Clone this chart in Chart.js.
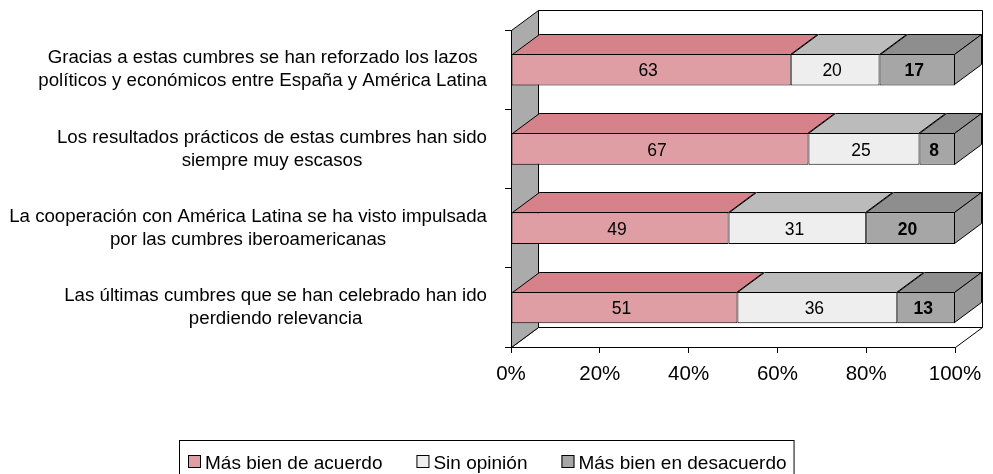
<!DOCTYPE html>
<html>
<head>
<title>Cumbres iberoamericanas</title>
<script src="https://cdn.jsdelivr.net/npm/chart.js"></script>
<style>
  body{ margin:0; background:#fff; }
</style>
</head>
<body>
<canvas id="chart" width="993" height="474"></canvas>
<script>
const categories = [
  ['Gracias a estas cumbres se han reforzado los lazos', 'políticos y económicos entre España y América Latina'],
  ['Los resultados prácticos de estas cumbres han sido', 'siempre muy escasos'],
  ['La cooperación con América Latina se ha visto impulsada', 'por las cumbres iberoamericanas'],
  ['Las últimas cumbres que se han celebrado han ido', 'perdiendo relevancia']
];
const seriesNames = ['Más bien de acuerdo', 'Sin opinión', 'Más bien en desacuerdo'];
const deAcuerdo = [63, 67, 49, 51];
const sinOpinion = [20, 25, 31, 36];
const enDesacuerdo = [17, 8, 20, 13];
const xTicks = [0, 20, 40, 60, 80, 100];

const FONT = '"Liberation Sans", Arial, sans-serif';
const DX = 27, DY = -20;   // depth of the 3d effect
const frontColors = ['#DE9EA4', '#EEEEEE', '#A6A6A6'];
const topColors = ['#D6828B', '#BBBBBB', '#8E8E8E'];
const sideColors = ['#C8727B', '#AAAAAA', '#9A9A9A'];

function poly(ctx, pts, fill) {
  ctx.beginPath();
  ctx.moveTo(pts[0][0], pts[0][1]);
  for (let i = 1; i < pts.length; i++) ctx.lineTo(pts[i][0], pts[i][1]);
  ctx.closePath();
  if (fill) { ctx.fillStyle = fill; ctx.fill(); }
  ctx.stroke();
}

const box3d = {
  id: 'box3d',
  beforeDatasetsDraw(chart) {
    const ctx = chart.ctx, a = chart.chartArea;
    const l = Math.round(a.left) + 0.5, r = Math.round(a.right) + 0.5;
    const t = Math.round(a.top) + 0.5, b = Math.round(a.bottom) + 0.5;
    ctx.save();
    ctx.strokeStyle = '#000';
    ctx.lineWidth = 1;
    // back wall, floor, left wall
    poly(ctx, [[l + DX, t + DY], [r + DX, t + DY], [r + DX, b + DY], [l + DX, b + DY]], '#fff');
    poly(ctx, [[l, b], [l + DX, b + DY], [r + DX, b + DY], [r, b]], '#fff');
    poly(ctx, [[l, t], [l + DX, t + DY], [l + DX, b + DY], [l, b]], '#ABABAB');
    ctx.restore();
  },
  afterDatasetsDraw(chart) {
    const ctx = chart.ctx;
    const last = chart.data.datasets.length - 1;
    ctx.save();
    ctx.strokeStyle = '#000';
    ctx.lineWidth = 1;
    chart.data.datasets.forEach((ds, d) => {
      chart.getDatasetMeta(d).data.forEach(bar => {
        const p = bar.getProps(['x', 'y', 'base', 'height'], true);
        const top = Math.round(p.y - p.height / 2) + 0.5;
        const bottom = Math.round(p.y + p.height / 2) - 0.5;
        const x0 = Math.round(Math.min(p.base, p.x)) + 0.5;
        const x1 = Math.round(Math.max(p.base, p.x)) - 0.5;
        poly(ctx, [[x0, top], [x1, top], [x1 + DX, top + DY], [x0 + DX, top + DY]], topColors[d]);
        if (d === last) {
          poly(ctx, [[x1, top], [x1, bottom], [x1 + DX, bottom + DY], [x1 + DX, top + DY]], sideColors[d]);
        }
      });
    });
    // value labels
    ctx.fillStyle = '#000';
    ctx.textAlign = 'center';
    ctx.textBaseline = 'middle';
    chart.data.datasets.forEach((ds, d) => {
      ctx.font = (d === last ? 'bold ' : '') + '17.5px ' + FONT;
      chart.getDatasetMeta(d).data.forEach((bar, i) => {
        const p = bar.getProps(['x', 'y', 'base'], true);
        ctx.fillText(String(ds.data[i]), (p.base + p.x) / 2 - 3, p.y + 2);
      });
    });
    ctx.restore();
  },
  afterDraw(chart) {
    const ctx = chart.ctx, a = chart.chartArea;
    const yScale = chart.scales.y;
    ctx.save();
    ctx.fillStyle = '#000';
    // category labels: each block right aligned, lines centred
    ctx.font = '18.7px ' + FONT;
    ctx.textAlign = 'center';
    ctx.textBaseline = 'middle';
    const right = a.left - 24, lh = 23;
    categories.forEach((lines, i) => {
      const cy = yScale.getPixelForValue(i);
      const w = Math.max(...lines.map(s => ctx.measureText(s).width));
      const cx = right - w / 2;
      lines.forEach((s, j) => ctx.fillText(s, cx, cy + (j - (lines.length - 1) / 2) * lh));
    });

    // legend in a framed box
    ctx.font = '19px ' + FONT;
    const box = 13, gap = 4, spacing = 34, pad = 8;
    const widths = seriesNames.map(s => ctx.measureText(s).width);
    const total = widths.reduce((s, w) => s + box + gap + w, 0) + spacing * (seriesNames.length - 1);
    let x = Math.round(chart.width / 2 - total / 2) - 9;
    const top = 440;
    ctx.strokeStyle = '#000';
    ctx.lineWidth = 1;
    ctx.strokeRect(x - pad - 0.5, top + 0.5, total + pad * 2, 60);
    ctx.textAlign = 'left';
    ctx.textBaseline = 'alphabetic';
    seriesNames.forEach((s, k) => {
      ctx.fillStyle = frontColors[k];
      ctx.fillRect(x, 455, box, box);
      ctx.strokeRect(x + 0.5, 455.5, box - 1, box - 1);
      ctx.fillStyle = '#000';
      ctx.fillText(s, x + box + gap, 469);
      x += box + gap + widths[k] + spacing;
    });
    ctx.restore();
  }
};

const seriesData = [deAcuerdo, sinOpinion, enDesacuerdo];

new Chart(document.getElementById('chart'), {
  type: 'bar',
  data: {
    labels: categories,
    datasets: seriesNames.map((name, k) => ({
      label: name,
      data: seriesData[k],
      backgroundColor: frontColors[k],
      borderColor: '#000',
      borderWidth: 1,
      borderSkipped: false,
      categoryPercentage: 1,
      barPercentage: 0.4
    }))
  },
  plugins: [box3d],
  options: {
    indexAxis: 'y',
    responsive: false,
    animation: false,
    layout: { padding: { top: 30, right: 38, left: 0, bottom: 0 } },
    plugins: { legend: { display: false }, tooltip: { enabled: false } },
    scales: {
      x: {
        stacked: true,
        min: 0,
        max: 100,
        afterBuildTicks: scale => { scale.ticks = xTicks.map(v => ({ value: v })); },
        afterFit: scale => { scale.height = 127; },
        ticks: {
          callback: v => v + '%',
          color: '#000',
          font: { size: 20.5, family: FONT },
          padding: 9,
          maxRotation: 0
        },
        grid: { drawOnChartArea: false, color: '#000', tickLength: 6 },
        border: { color: '#000' }
      },
      y: {
        stacked: true,
        afterFit: scale => { scale.width = 511; },
        ticks: { display: false },
        grid: { drawOnChartArea: false, color: '#000', tickLength: 6 },
        border: { color: '#000' }
      }
    }
  }
});
</script>
</body>
</html>
